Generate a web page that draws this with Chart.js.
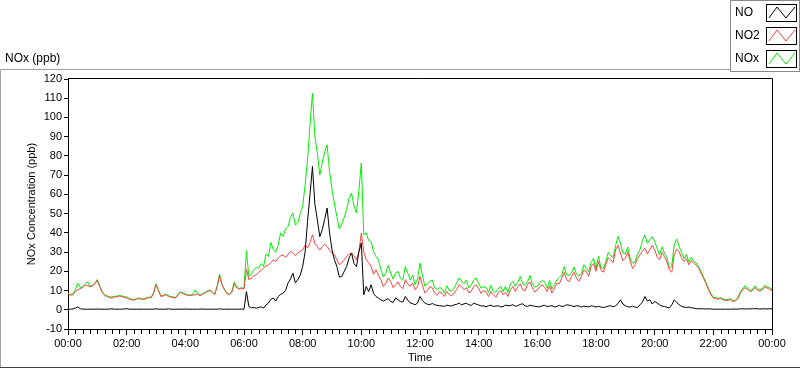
<!DOCTYPE html>
<html>
<head>
<meta charset="utf-8">
<script src="https://cdn.jsdelivr.net/npm/chart.js@4.4.1/dist/chart.umd.min.js"></script>
<style>
  html, body { margin: 0; padding: 0; background: #fff; }
  #wrap { width: 800px; height: 369px; }
</style>
</head>
<body>
<div id="wrap"><canvas id="chart" width="800" height="369"></canvas></div>
<script>
// Readings every 5 minutes, 00:00 .. 24:00 (ppb)
const STEP_MIN = 5;

const NO = [
  // 00:00 - 06:00
  0.3,0.3, 0.4,0.9, 1.5,0.5, 0.4,0.3, 0.3,0.3, 0.3,0.3, 0.4,0.3, 0.3,0.3, 0.3,0.4, 0.5,0.3,
  0.3,0.3, 0.3,0.4, 0.6,0.3, 0.3,0.3, 0.3,0.3, 0.3,0.3, 0.3,0.3, 0.3,0.3, 0.5,0.3, 0.3,0.3,
  0.3,0.5, 0.3,0.3, 0.3,0.3, 0.3,0.3, 0.4,0.3, 0.3,0.3, 0.3,0.3, 0.3,0.4, 0.3,0.3, 0.3,0.3,
  0.3,0.3, 0.5,0.3, 0.3,0.3, 0.3,0.3, 0.3,0.3, 0.3,0.3,
  // 06:00 - 10:00
  0.3,9.5, 1.7,1.0, 1.2,0.8, 1.2,1.5, 0.9,2.5, 3.5,5.5, 6.1,4.5, 6.9,8, 8.7,10, 13.9,16,
  19,14, 15.6,18, 22.5,30, 46,60, 74.5,55, 46.8,38, 41.6,47, 52.9,40, 31.2,26, 22.5,17,
  17.3,20, 22.5,27, 29.5,24, 22.5,30,
  // 10:00 - 14:00
  34.7,7.8, 12.1,9.5, 13,8.5, 6.9,6, 5.2,4.5, 5.2,5.8, 4.3,3.8, 6.1,5.2, 4.3,4, 6.9,5,
  3.5,3.2, 2.6,3.5, 6.9,4.8, 3.5,2.9, 2.6,3.3, 2.6,2.3, 2.1,2.0, 1.7,2.4, 2.1,2.0, 2.6,2.8,
  3.5,2.5, 3.1,3.4, 2.6,2.3, 3.5,2.9,
  // 14:00 - 18:00
  2.5,2.0, 2,1.6, 2.1,2.4, 1.7,1.9, 2.1,1.5, 1.7,2.4, 2.1,2.2, 2.6,1.8, 2.1,2.8, 3.1,2.0,
  1.7,2.4, 2.1,1.8, 1.7,1.5, 2.1,2.3, 1.7,1.9, 2.1,1.5, 1.7,2.3, 1.7,1.9, 2.6,2.4, 2.1,1.6,
  2.1,2.0, 1.4,1.9, 1.7,1.5, 2.1,1.8,
  // 18:00 - 24:00
  1.4,1.8, 1.4,1.2, 1.4,1.9, 2.1,1.5, 2.1,3.2, 5.2,3.0, 2.1,1.6, 1.4,1.9, 1.4,1.2, 2.6,4.0,
  6.9,4.5, 5.2,3.0, 4.3,3.5, 2.6,1.9, 1.7,1.3, 0.9,2.5, 5.2,3.8, 2.6,1.8, 1.4,1.2, 1.4,1.0,
  0.9,0.6, 0.5,0.5, 0.5,0.4, 0.5,0.4, 0.3,0.3, 0.3,0.3, 0.3,0.3, 0.3,0.3, 0.3,0.4, 0.3,0.5,
  0.5,0.4, 0.5,0.5, 0.5,0.6, 0.5,0.4, 0.5,0.5, 0.4,0.5, 0.5
];

const NO2 = [
  // 00:00 - 06:00
  8.3,7.6, 7.8,9.5, 10.4,11, 11.6,12.8, 12.5,12, 12.5,13.5, 15.3,12, 9.0,7.5, 6.9,6.3, 6.1,6.8,
  6.6,7.2, 6.9,6.4, 6.1,5.6, 5.2,5.0, 5.5,5.8, 5.5,5.3, 5.9,6.3, 6.2,8.5, 13.0,10, 6.9,7.2,
  7.8,7.0, 6.6,6.3, 6.1,7.8, 9.0,8.5, 7.8,7.5, 7.3,7.6, 7.8,8.2, 7.3,8.0, 8.7,9.5, 10.0,9.0,
  7.8,12, 17.7,13, 10.4,8.5, 7.8,9, 13.5,11.5, 10.7,11.2,
  // 06:00 - 10:00
  10.8,21, 15.6,16.5, 17.5,18.2, 19.5,20.5, 21.7,22.8, 23.4,24.5, 26,25.2, 26.9,28, 28.6,27.2, 28.6,30.4,
  29.5,28.2, 29.5,30.5, 31.2,33.5, 32.1,35, 39,34.5, 32.9,31, 32.9,34, 32.9,31, 29.5,28.6, 26,23.4,
  24.3,26, 27.7,29, 29.5,28, 26,30.3,
  // 10:00 - 14:00
  39.9,30, 26,24.5, 22.5,18.5, 20.8,18, 15.6,12, 13.9,16.5, 14.7,11.5, 13,14.5, 12.1,11, 15.6,13.5,
  12.1,14, 10.4,12, 17.3,13, 8.7,10, 12.1,11.5, 8.7,7.5, 9.5,8.5, 6.9,9.5, 7.8,7.2, 8.7,10.5,
  13,12, 10.4,11.5, 8.7,9.8, 12.1,13,
  // 14:00 - 18:00
  11,8.5, 10,9.3, 6.9,9.5, 7.8,6.5, 8.7,10, 7.8,9, 6.9,10.5, 12.1,9.6, 12.1,13.5, 10.4,9.8,
  13,14.5, 11.3,9.2, 10.4,12, 13,11.5, 9.5,12.5, 8.7,11, 13.9,13.5, 16.5,19.5, 15.6,14.5, 17.3,19.5,
  16.5,14.8, 17.3,20.5, 19.9,17.5, 22.5,24,
  // 18:00 - 24:00
  20,25, 20.8,19.5, 23.4,27, 26,24.5, 31.2,33.5, 29.5,25.5, 26.9,30, 25.1,21.5, 23.4,26.8, 28.6,30.5,
  32,29, 31.2,33.5, 31.2,27.5, 26,29.8, 27.7,25, 20.8,19.5, 28.6,31.5, 30.3,27, 25.1,26.5, 23.4,25.5,
  24.3,23, 21.7,19, 16.5,13.5, 10.4,7.8, 6.1,5.8, 5.5,5.9, 5.2,4.8, 4.9,5.3, 4.3,4.6, 5.7,8.5,
  10.4,11.5, 10.7,9.4, 10,11.5, 10.4,9.6, 10.4,11.8, 11.3,10.6, 10
];

const NOX = [
  // 00:00 - 06:00
  8.6,7.9, 8.2,10.4, 13.9,11.5, 12,13.1, 14.7,12.3, 12.8,13.8, 15.7,12.3, 9.4,7.8, 7.2,6.7, 6.6,7.1,
  7.0,7.5, 7.2,6.8, 6.7,5.9, 5.5,5.3, 5.8,6.1, 5.8,5.6, 6.2,6.6, 6.5,8.8, 13.5,10.3, 7.2,7.5,
  8.1,7.5, 6.9,6.6, 6.4,8.1, 9.3,8.8, 8.2,7.8, 7.6,7.9, 10.4,8.5, 7.6,8.4, 9,9.8, 10.3,9.3,
  8.1,12.3, 18.5,13.3, 10.7,8.8, 8.1,9.3, 14.5,11.8, 11,11.5,
  // 06:00 - 10:00
  11,30.7, 17.3,18.5, 20.8,22, 21.7,24, 22.5,29, 27.7,35, 31.2,30, 33.8,40, 38.1,42, 43.3,48,
  50.3,44, 45.3,50, 53.7,65, 78,96, 112.6,90, 81.5,70, 76.3,82, 85.8,72, 62.4,55, 48.5,42,
  44.6,48, 52.2,58, 60.7,54, 50.3,62,
  // 10:00 - 14:00
  76.3,39, 40,36, 35.5,30, 27.7,26, 20.8,17, 19.1,23, 19,16, 19.1,20, 16.4,15.5, 22.5,19,
  15.6,18, 13,16, 24.2,18, 12.2,13.5, 14.7,15.5, 11.3,10.5, 11.6,11, 8.6,12.5, 9.9,9.8, 11.3,14,
  16.5,15, 13.5,15.5, 11.3,12.8, 15.6,16.5,
  // 14:00 - 18:00
  13.5,11.3, 12,11.7, 9,12.7, 9.5,9.2, 10.8,12.3, 9.5,12.2, 9,13.5, 14.7,12.2, 14.2,17.3, 13.5,12.6,
  14.7,17.9, 13.4,11.8, 12.1,14.3, 15.1,14.6, 11.2,15.2, 10.8,13.3, 15.6,16.8, 18.2,22.4, 18.2,17.7, 19.4,22.1,
  18.6,17.6, 18.7,23.4, 21.6,19.8, 24.6,26.8,
  // 18:00 - 24:00
  21.4,27.8, 22.2,21.5, 24.8,29.9, 28.1,27, 33.3,38.2, 34.7,29.5, 29,32.6, 26.5,24.2, 24.8,29, 31.2,36,
  38.9,34.5, 36.4,38, 35.5,32, 28.6,32.7, 29.4,27.1, 21.7,22.8, 33.8,36.8, 32.9,29.8, 26.5,28.7, 24.8,27.3,
  25.2,24.3, 22.2,20, 17,14.3, 10.9,8.5, 6.4,6.4, 5.8,6.4, 5.5,5.3, 5.2,5.8, 4.6,5.1, 6,9.2,
  10.9,12.5, 11.2,10.1, 10.5,12.5, 10.9,10.5, 10.9,12.8, 11.8,11.4, 10.5
];

const Y_MIN = -10;
const Y_MAX = 120;

const FONT = "'Liberation Sans', Arial, sans-serif";
Chart.defaults.font.family = FONT;
Chart.defaults.color = '#000';

function toPoints(values) {
  return values.map((v, i) => ({ x: i * STEP_MIN, y: v }));
}

function fmtTime(min) {
  const h = Math.floor(min / 60) % 24;
  const m = min % 60;
  return String(h).padStart(2, '0') + ':' + String(m).padStart(2, '0');
}

// panel frame, plot box, minor x ticks and the boxed legend
const framePlugin = {
  id: 'frame',
  beforeDraw(chart) {
    const ctx = chart.ctx;
    ctx.save();
    ctx.fillStyle = '#fff';
    ctx.fillRect(0, 0, chart.width, chart.height);
    ctx.strokeStyle = '#a0a0a0';
    ctx.lineWidth = 1;
    ctx.beginPath();
    ctx.moveTo(0.5, 368);
    ctx.lineTo(0.5, 69.5);
    ctx.lineTo(730, 69.5);
    ctx.stroke();
    ctx.strokeStyle = '#404040';
    ctx.beginPath();
    ctx.moveTo(0, 367.5);
    ctx.lineTo(800, 367.5);
    ctx.stroke();
    ctx.restore();
  },
  afterDraw(chart) {
    const ctx = chart.ctx;
    const area = chart.chartArea;
    const x = chart.scales.x;
    ctx.save();
    ctx.strokeStyle = '#000';
    ctx.lineWidth = 1;
    ctx.beginPath();
    ctx.moveTo(area.left, area.top - 0.5);
    ctx.lineTo(area.right + 0.5, area.top - 0.5);
    ctx.lineTo(area.right + 0.5, area.bottom);
    ctx.stroke();

    ctx.beginPath();
    for (let m = 15; m < 1440; m += 15) {
      if (m % 120 === 0) continue;
      const px = Math.round(x.getPixelForValue(m)) + 0.5;
      ctx.moveTo(px, area.bottom + 1);
      ctx.lineTo(px, area.bottom + 5);
    }
    ctx.stroke();

    // legend
    ctx.fillStyle = '#fff';
    ctx.fillRect(730, 0, 70, 72);
    ctx.strokeStyle = '#8a8a8a';
    ctx.strokeRect(730.5, 0.5, 69, 71);
    ctx.font = '12px ' + FONT;
    ctx.textBaseline = 'middle';
    ctx.textAlign = 'left';
    chart.data.datasets.forEach((ds, i) => {
      const cy = 13 + i * 23;
      ctx.fillStyle = '#000';
      ctx.fillText(ds.label, 735, cy);
      ctx.fillStyle = '#fff';
      ctx.fillRect(766, cy - 9, 31, 18);
      ctx.strokeStyle = '#000';
      ctx.strokeRect(766.5, cy - 8.5, 30, 17);
      ctx.strokeStyle = ds.borderColor;
      ctx.beginPath();
      ctx.moveTo(769, cy + 5);
      ctx.lineTo(777, cy - 6);
      ctx.lineTo(786, cy + 5);
      ctx.lineTo(795, cy - 6);
      ctx.stroke();
    });
    ctx.restore();
  }
};

new Chart(document.getElementById('chart'), {
  type: 'line',
  data: {
    datasets: [
      { label: 'NO', data: toPoints(NO), borderColor: '#000000' },
      { label: 'NO2', data: toPoints(NO2), borderColor: '#ff4040' },
      { label: 'NOx', data: toPoints(NOX), borderColor: '#00f000' }
    ]
  },
  options: {
    responsive: false,
    animation: false,
    devicePixelRatio: 1,
    layout: { padding: { left: 5, right: 28, top: 0, bottom: 0 } },
    elements: {
      line: { borderWidth: 1, tension: 0, fill: false },
      point: { radius: 0 }
    },
    plugins: {
      legend: { display: false },
      tooltip: { enabled: false },
      title: {
        display: true,
        text: 'NOx (ppb)',
        align: 'start',
        color: '#000',
        font: { size: 12, weight: 'normal' },
        padding: { top: 51, bottom: 13.6 }
      }
    },
    scales: {
      x: {
        type: 'linear',
        min: 0,
        max: 1440,
        afterFit: (s) => { s.height = 40; },
        ticks: {
          stepSize: 120,
          autoSkip: false,
          maxRotation: 0,
          padding: 2,
          font: { size: 11 },
          callback: (v) => fmtTime(v)
        },
        grid: { drawOnChartArea: false, tickLength: 6, color: '#000' },
        border: { color: '#000' },
        title: {
          display: true,
          text: 'Time',
          font: { size: 11 },
          padding: { top: 0, bottom: 4 }
        }
      },
      y: {
        min: Y_MIN,
        max: Y_MAX,
        afterFit: (s) => { s.width = 63; },
        ticks: { stepSize: 10, padding: 2, font: { size: 11 } },
        grid: { drawOnChartArea: false, tickLength: 4, color: '#000' },
        border: { color: '#000' },
        title: {
          display: true,
          text: 'NOx Concentration (ppb)',
          font: { size: 11 },
          padding: { top: 20, bottom: 0 }
        }
      }
    }
  },
  plugins: [framePlugin]
});
</script>
</body>
</html>
